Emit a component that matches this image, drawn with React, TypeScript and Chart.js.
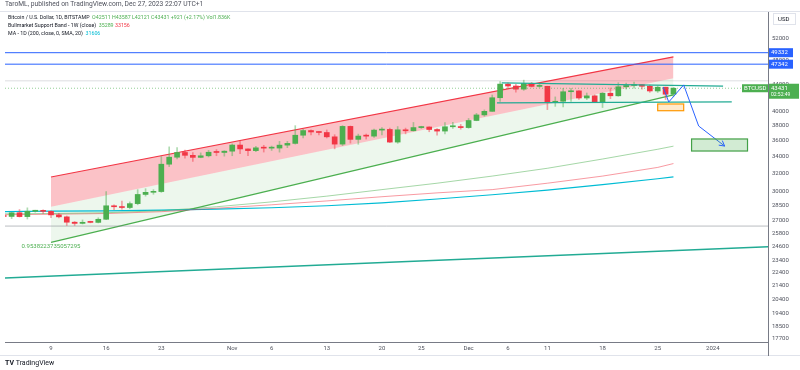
import React, { useEffect, useRef } from "react";
import { Chart, registerables } from "chart.js";
Chart.register(...registerables);

// day index: 0 = Oct 1, 2023
const FIRST_DAY = 2; // Oct 3
const OPEN = [27500,27429,27794,27415,27946,27968,27935,27584,27390,26870,26756,26862,26852,27154,28500,28400,28320,28720,29680,29910,29990,33080,33920,34500,34150,33900,34090,34530,34500,
  34660,35430,34940,34730,35080,35040,35050,35420,35640,36700,37320,37130,37060,36490,35550,37880,36160,36590,36580,37380,37470,35810,37420,37290,37720,37800,37460,37250,37830,37850,
  37720,38690,39470,39980,41980,44080,43780,43290,44170,43720,43730,41240,41450,42890,43020,41940,42260,41360,42660,42270,43660,43860,43990,43740,43010,43590,42511];
const HIGH = [27670,27830,28120,28290,28050,28100,27990,27730,27480,26940,27090,26970,27300,30000,28600,28980,28900,30200,30300,30200,34000,35200,35100,34800,34500,34450,34760,34860,34720,
  35580,35980,34950,35270,35400,35300,35900,35900,37980,37500,37400,37220,37400,36770,37980,37940,36850,36860,37520,37730,37650,37860,37650,38420,37900,37830,37590,38400,38430,38150,
  38970,39690,40190,42400,44490,44300,44050,44710,44360,44050,43750,42100,43420,43410,43080,42700,42420,42760,43470,44300,44240,44400,44020,43930,43800,43600,43587];
const LOW = [27160,27220,27370,27180,27850,27720,27300,27290,26550,26560,26700,26810,26800,27120,28100,28150,28200,28600,29500,29700,29900,32800,33700,33800,33400,33850,33950,34100,34050,
  34100,34360,34110,34600,34550,34750,34540,35100,35550,36350,36750,36750,36340,34950,35360,35680,35530,36200,36410,36730,35750,35650,36880,37250,37600,37160,36700,36880,37600,37500,
  37620,38650,39280,39980,41430,43350,42820,43100,43620,43560,40230,40700,40630,41440,41710,41700,41250,40530,41840,42200,43300,43430,43300,42800,42780,41700,42121];
const CLOSE = [27429,27794,27415,27946,27968,27935,27584,27390,26870,26756,26862,26852,27154,28500,28400,28320,28720,29680,29910,29990,33080,33920,34500,34150,33900,34090,34530,34500,34660,
  35430,34940,34730,35080,35040,35050,35420,35640,36700,37320,37130,37060,36490,35550,37880,36160,36590,36580,37380,37470,35810,37420,37290,37720,37800,37460,37250,37830,37850,37720,
  38690,39470,39980,41980,44080,43780,43290,44170,43720,43730,41240,41450,42890,43020,41940,42260,41360,42660,42270,43660,43860,43990,43740,43010,43590,42510,43431];

const X_MIN = 2.16;
const X_MAX = 99.0;
const Y_MIN = 17490;
const Y_MAX = 57080;

const X_TICK_DAYS = [8, 15, 22, 31, 36, 43, 50, 55, 61, 66, 71, 78, 85, 92];
const X_TICK_LABELS = ["9", "16", "23", "Nov", "6", "13", "20", "25", "Dec", "6", "11", "18", "25", "2024"];
const Y_TICKS = [52000, 48000, 44000, 40000, 38000, 36000, 34000, 32000, 30000, 28500, 27000, 25800, 24600, 23400, 22400, 21400, 20400, 19400, 18500, 17700];

// indicators
const BAND_DAYS = [2, 8, 15, 22, 29, 36, 43, 50, 57, 64, 71, 78, 85, 87];
const SMA20W = [27690, 27720, 27800, 28000, 28400, 28900, 29500, 30200, 30900, 31700, 32600, 33700, 34900, 35289];
const EMA21W = [27600, 27650, 27720, 27900, 28250, 28600, 29000, 29440, 29850, 30200, 30900, 31700, 32700, 33156];
const MA200 = [27900, 27950, 27990, 28050, 28150, 28300, 28500, 28800, 29200, 29650, 30150, 30750, 31400, 31606];

// drawings
const REG_DAYS = [8, 87];
const REG_UPPER = [31600, 48600];
const REG_MID = [28400, 45000];
const REG_LOWER = [25000, 42400];
const PEARSON = "0.9538223735057295";

const RANGE_TOP_DAYS = [65.2, 93.3];
const RANGE_TOP = [44260, 43770];
const RANGE_BOTTOM_DAYS = [64.6, 94.4];
const RANGE_BOTTOM = [41200, 41350];

const TREND_DAYS = [X_MIN, X_MAX];
const TREND = [22000, 24600];
const GRAY_LEVELS = [26500, 44600];
const BLUE_LEVELS = [49332, 47342];
const LAST_PRICE = 43431;

const PATH_DAYS = [85.7, 86.4, 88.3, 90.2, 93.5];
const PATH_PRICES = [43620, 41340, 43950, 37930, 35300];

const BOXES = [
  { x1: 85.0, x2: 88.3, top: 41050, bottom: 40070, stroke: "#FF9800", fill: "rgba(255,152,0,0.2)" },
  { x1: 89.3, x2: 96.4, top: 36210, bottom: 34680, stroke: "#43A047", fill: "rgba(76,175,80,0.25)" },
];

const GREEN = "#4CAF50";
const RED = "#F23645";

function pts(xs: number[], ys: number[]) {
  return xs.map((x, i) => ({ x, y: ys[i] }));
}
function flat(v: number) {
  return [{ x: X_MIN, y: v }, { x: X_MAX, y: v }];
}

export default function App() {
  const ref = useRef<HTMLCanvasElement | null>(null);
  useEffect(() => {
    if (!ref.current) return;
    const candleX = OPEN.map((_, i) => FIRST_DAY + i);
    const up = OPEN.map((o, i) => CLOSE[i] >= o);
    const bodyColors = up.map((u) => (u ? GREEN : RED));
    const wickColors = up.map((u) => (u ? "rgba(76,175,80,0.45)" : "rgba(242,54,69,0.45)"));

    const line = (data: any, color: string, width: number, extra: any = {}) => ({
      type: "line",
      data,
      borderColor: color,
      borderWidth: width,
      pointRadius: 0,
      fill: false,
      tension: 0,
      order: 3,
      ...extra,
    });

    const drawings = {
      id: "drawings",
      afterDatasetsDraw(chart: any) {
        const { ctx, scales } = chart;
        const x = scales.x, y = scales.y;
        ctx.save();
        BOXES.forEach((b) => {
          const px1 = x.getPixelForValue(b.x1), px2 = x.getPixelForValue(b.x2);
          const py1 = y.getPixelForValue(b.top), py2 = y.getPixelForValue(b.bottom);
          ctx.fillStyle = b.fill;
          ctx.fillRect(px1, py1, px2 - px1, py2 - py1);
          ctx.strokeStyle = b.stroke;
          ctx.lineWidth = 1.2;
          ctx.strokeRect(px1, py1, px2 - px1, py2 - py1);
        });
        // arrow head
        const n = PATH_DAYS.length;
        const ax = x.getPixelForValue(PATH_DAYS[n - 1]), ay = y.getPixelForValue(PATH_PRICES[n - 1]);
        const bx = x.getPixelForValue(PATH_DAYS[n - 2]), by = y.getPixelForValue(PATH_PRICES[n - 2]);
        const ang = Math.atan2(ay - by, ax - bx);
        ctx.strokeStyle = "#2962FF";
        ctx.lineWidth = 1;
        ctx.beginPath();
        ctx.moveTo(ax - 6 * Math.cos(ang - 0.5), ay - 6 * Math.sin(ang - 0.5));
        ctx.lineTo(ax, ay);
        ctx.lineTo(ax - 6 * Math.cos(ang + 0.5), ay - 6 * Math.sin(ang + 0.5));
        ctx.stroke();
        // pearson
        ctx.fillStyle = GREEN;
        ctx.font = "6px Roboto";
        ctx.textAlign = "center";
        ctx.textBaseline = "top";
        ctx.fillText(PEARSON, x.getPixelForValue(REG_DAYS[0]), y.getPixelForValue(REG_LOWER[0]) + 1);
        ctx.restore();
      },
      afterDraw(chart: any) {
        const { ctx, scales, chartArea, width } = chart;
        const y = scales.y;
        ctx.save();
        // pane frame
        ctx.strokeStyle = "#e0e3eb";
        ctx.lineWidth = 1;
        ctx.beginPath();
        ctx.moveTo(0, chartArea.top - 0.5);
        ctx.lineTo(width, chartArea.top - 0.5);
        ctx.moveTo(0, chartArea.bottom + 13.5);
        ctx.lineTo(width, chartArea.bottom + 13.5);
        ctx.stroke();
        ctx.strokeStyle = "#787B86";
        ctx.beginPath();
        ctx.moveTo(chartArea.right + 0.5, chartArea.bottom);
        ctx.lineTo(chartArea.right + 0.5, chartArea.bottom + 14);
        ctx.stroke();

        ctx.font = "6px Roboto";
        ctx.textBaseline = "middle";
        ctx.textAlign = "left";
        // USD box
        ctx.fillStyle = "#fff";
        ctx.fillRect(chartArea.right + 5, chartArea.top + 1, 22, 11);
        ctx.strokeStyle = "#e0e3eb";
        ctx.strokeRect(chartArea.right + 5.5, chartArea.top + 1.5, 22, 11);
        ctx.fillStyle = "#131722";
        ctx.fillText("USD", chartArea.right + 10, chartArea.top + 7);
        BLUE_LEVELS.forEach((v) => {
          const py = y.getPixelForValue(v);
          ctx.fillStyle = "#2962FF";
          ctx.fillRect(chartArea.right + 1, py - 4.5, 24, 9);
          ctx.fillStyle = "#fff";
          ctx.fillText(String(v), chartArea.right + 3, py);
        });
        const lp = y.getPixelForValue(LAST_PRICE);
        ctx.fillStyle = GREEN;
        ctx.fillRect(chartArea.right + 1, lp - 4.5, 30, 15);
        ctx.fillRect(chartArea.right - 26, lp - 4, 26, 8);
        ctx.fillStyle = "#fff";
        ctx.fillText(String(LAST_PRICE), chartArea.right + 3, lp);
        ctx.fillText("BTCUSD", chartArea.right - 24, lp);
        ctx.font = "5px Roboto";
        ctx.fillText("02:52:49", chartArea.right + 3, lp + 6.5);
        ctx.restore();
      },
    };

    const chart = new Chart(ref.current, {
      type: "bar",
      data: {
        datasets: [
          {
            type: "bar",
            data: candleX.map((d, i) => ({ x: d, y: [LOW[i], HIGH[i]] })),
            backgroundColor: wickColors,
            barThickness: 1,
            borderWidth: 0,
            grouped: false,
            order: 1,
          },
          {
            type: "bar",
            data: candleX.map((d, i) => ({ x: d, y: [OPEN[i], CLOSE[i]] })),
            backgroundColor: bodyColors,
            barThickness: 5,
            borderWidth: 0,
            grouped: false,
            minBarLength: 1,
            order: 0,
          },
          line(pts(REG_DAYS, REG_UPPER), RED, 1.2, { fill: "+1", backgroundColor: "rgba(242,54,69,0.3)", order: 4 }),
          line(pts(REG_DAYS, REG_MID), "rgba(0,0,0,0)", 0, { fill: "+1", backgroundColor: "rgba(76,175,80,0.1)", order: 4 }),
          line(pts(REG_DAYS, REG_LOWER), GREEN, 1.2, { order: 4 }),
          line(pts(BAND_DAYS, SMA20W), "rgba(76,175,80,0.5)", 1),
          line(pts(BAND_DAYS, EMA21W), "rgba(242,54,69,0.5)", 1),
          line(pts(BAND_DAYS, MA200), "#00BCD4", 1.2),
          line(pts(TREND_DAYS, TREND), "#22AB94", 1.5, { order: -1 }),
          line(flat(GRAY_LEVELS[0]), "rgba(120,123,134,0.5)", 1, { order: -1 }),
          line(flat(GRAY_LEVELS[1]), "rgba(120,123,134,0.25)", 1, { order: 5 }),
          line(flat(BLUE_LEVELS[0]), "#2962FF", 1, { order: -1 }),
          line(flat(BLUE_LEVELS[1]), "#2962FF", 1, { order: -1 }),
          line(flat(LAST_PRICE), "rgba(76,175,80,0.6)", 1, { borderDash: [1, 2], order: -1 }),
          line(pts(RANGE_TOP_DAYS, RANGE_TOP), "#22AB94", 1.3, { order: -1 }),
          line(pts(RANGE_BOTTOM_DAYS, RANGE_BOTTOM), "#22AB94", 1.3, { order: -1 }),
          line(pts(PATH_DAYS, PATH_PRICES), "#2962FF", 1, { order: -2 }),
        ] as any,
      },
      options: {
        responsive: false,
        animation: false,
        layout: { padding: { left: 5, top: 12, right: 0, bottom: 0 } },
        plugins: { legend: { display: false }, tooltip: { enabled: false } },
        scales: {
          x: {
            type: "linear",
            min: X_MIN,
            max: X_MAX,
            offset: false,
            grid: { display: false, drawTicks: false },
            border: { display: true, color: "#787B86" },
            afterBuildTicks: (s: any) => {
              s.ticks = X_TICK_DAYS.map((v) => ({ value: v }));
            },
            afterFit: (s: any) => {
              s.height = 28;
            },
            ticks: {
              autoSkip: false,
              maxRotation: 0,
              padding: 3,
              color: "#50535E",
              font: { size: 6, family: "Roboto" },
              callback: (v: any) => {
                const i = X_TICK_DAYS.indexOf(Number(v));
                return i >= 0 ? X_TICK_LABELS[i] : "";
              },
            },
          },
          y: {
            type: "logarithmic",
            position: "right",
            min: Y_MIN,
            max: Y_MAX,
            grid: { display: false, drawTicks: false },
            border: { display: true, color: "#787B86" },
            afterBuildTicks: (s: any) => {
              s.ticks = Y_TICKS.map((v) => ({ value: v }));
            },
            afterFit: (s: any) => {
              s.width = 32;
            },
            ticks: {
              autoSkip: false,
              padding: 4,
              color: "#50535E",
              font: { size: 6, family: "Roboto" },
              callback: (v: any) => String(v),
            },
          },
        },
      } as any,
      plugins: [drawings],
    });
    return () => chart.destroy();
  }, []);

  const small: React.CSSProperties = { position: "absolute", left: 8, fontFamily: "Roboto, sans-serif", fontSize: 5.3, color: "#131722", whiteSpace: "nowrap", lineHeight: "8px" };
  const g = { color: "#4CAF50" };
  return (
    <div style={{ position: "absolute", left: 0, top: 0, width: 800, height: 370, background: "#fff", overflow: "hidden" }}>
      <canvas ref={ref} width={800} height={370} style={{ position: "absolute", left: 0, top: 0 }} />
      <div style={{ ...small, left: 5, top: 0, fontSize: 6.7, color: "#50535E" }}>TaroML, published on TradingView.com, Dec 27, 2023 22:07 UTC+1</div>
      <div style={{ ...small, top: 13 }}>
        Bitcoin / U.S. Dollar, 1D, BITSTAMP&nbsp; <span style={g}>O42511</span> <span style={g}>H43587</span> <span style={g}>L42121</span> <span style={g}>C43431</span> <span style={g}>+921 (+2.17%)</span> <span style={g}>Vol1.836K</span>
      </div>
      <div style={{ ...small, top: 21 }}>
        Bullmarket Support Band - 1W (close)&nbsp; <span style={g}>35289</span> <span style={{ color: "#F23645" }}>33156</span>
      </div>
      <div style={{ ...small, top: 29 }}>
        MA - 1D (200, close, 0, SMA, 20)&nbsp; <span style={{ color: "#00BCD4" }}>31606</span>
      </div>
      <div style={{ ...small, left: 5, top: 359, fontSize: 7, fontWeight: 700, color: "#131722" }}>
        TV <span style={{ fontWeight: 400 }}>TradingView</span>
      </div>
    </div>
  );
}
